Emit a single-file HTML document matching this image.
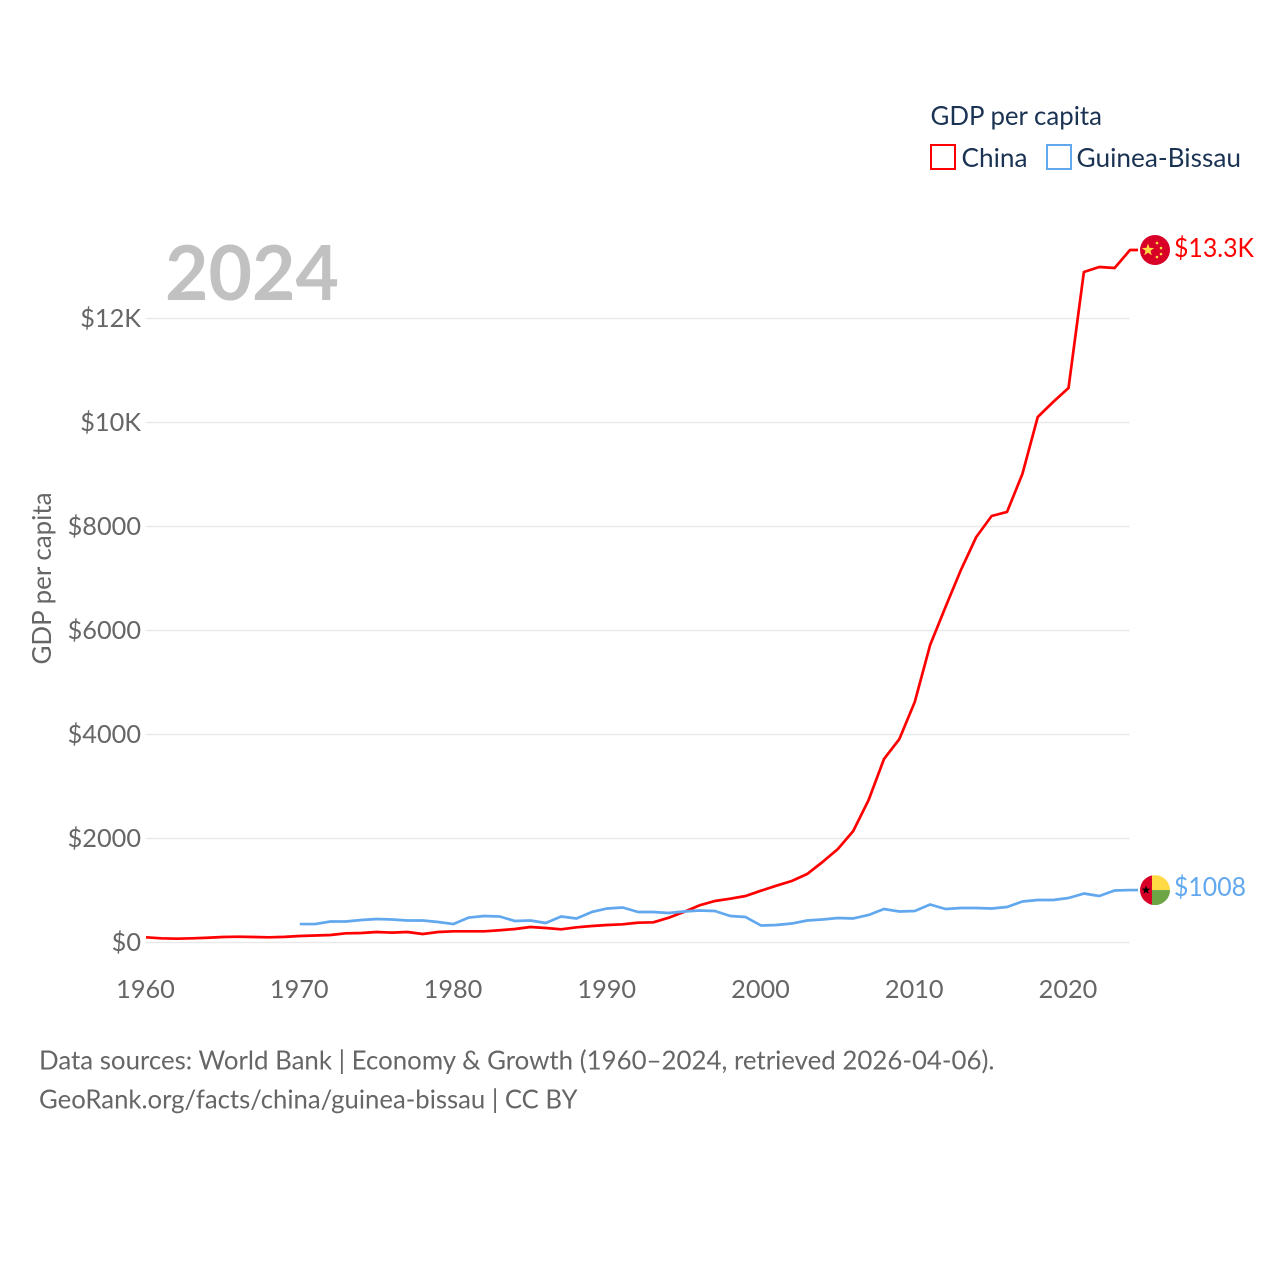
<!DOCTYPE html>
<html lang="en">
<head>
<meta charset="utf-8">
<title>GDP per capita: China and Guinea-Bissau</title>
<style>
html,body{margin:0;padding:0;background:#fff;width:1280px;height:1280px;overflow:hidden}
svg{display:block}
text{font-family:"Lato","Carlito","Liberation Sans",sans-serif}
</style>
</head>
<body>
<svg id="chart" xmlns="http://www.w3.org/2000/svg" width="1280" height="1280" viewBox="0 0 1280 1280">
  <defs>
    <clipPath id="flag-clip"><circle cx="0" cy="0" r="15"></circle></clipPath>
  </defs>
  <rect width="1280" height="1280" fill="#ffffff"></rect>
  <g id="grid"></g>
  <g id="y-ticks"></g>
  <g id="x-ticks"></g>
  <text x="165" y="300" font-size="76" font-weight="700" fill="#c1c1c1" textLength="174" lengthAdjust="spacingAndGlyphs">2024</text>
  <text transform="translate(51,578.5) rotate(-90)" text-anchor="middle" font-size="26" fill="#666666" textLength="172" lengthAdjust="spacingAndGlyphs">GDP per capita</text>
  <path id="line-china" fill="none" stroke="#ff0000" stroke-width="2.7" stroke-linejoin="round"></path>
  <path id="line-gnb" fill="none" stroke="#62a8ee" stroke-width="2.7" stroke-linejoin="round"></path>
  <g id="flag-china">
    <g clip-path="url(#flag-clip)">
      <rect x="-15" y="-15" width="30" height="30" fill="#d80027"></rect>
      <polygon id="china-star-main" points="0,0" fill="#ffda44"></polygon>
      <circle cx="2" cy="-7" r="1.3" fill="#ffda44"></circle>
      <circle cx="6" cy="-2" r="1.3" fill="#ffda44"></circle>
      <circle cx="6" cy="4" r="1.3" fill="#ffda44"></circle>
      <circle cx="2" cy="7" r="1.3" fill="#ffda44"></circle>
    </g>
  </g>
  <g id="flag-gnb">
    <g clip-path="url(#flag-clip)">
      <rect x="-15" y="-15" width="12" height="30" fill="#d80027"></rect>
      <rect x="-3" y="-15" width="18" height="15" fill="#ffda44"></rect>
      <rect x="-3" y="0" width="18" height="15" fill="#6da544"></rect>
      <polygon id="gnb-star" points="0,0" fill="#000000"></polygon>
    </g>
  </g>
  <text id="value-china" x="1174" font-size="26" fill="#ff0000" textLength="80" lengthAdjust="spacingAndGlyphs"></text>
  <text id="value-gnb" x="1174" font-size="26" fill="#62a8ee" textLength="72" lengthAdjust="spacingAndGlyphs"></text>
  <g>
    <text x="930.5" y="125" font-size="26" fill="#1a3353" textLength="171.5" lengthAdjust="spacingAndGlyphs">GDP per capita</text>
    <g>
      <rect x="931" y="145" width="24" height="24" fill="none" stroke="#ff0000" stroke-width="2"></rect>
      <text x="961.5" y="167" font-size="26" fill="#1a3353" textLength="66" lengthAdjust="spacingAndGlyphs">China</text>
    </g>
    <g>
      <rect x="1047" y="145" width="24" height="24" fill="none" stroke="#62a8ee" stroke-width="2"></rect>
      <text x="1076.5" y="167" font-size="26" fill="#1a3353" textLength="164.5" lengthAdjust="spacingAndGlyphs">Guinea-Bissau</text>
    </g>
  </g>
  <g>
    <text x="39" y="1069.5" font-size="26" fill="#666666" textLength="955.5" lengthAdjust="spacingAndGlyphs">Data sources: World Bank | Economy &amp; Growth (1960–2024, retrieved 2026-04-06).</text>
    <text x="39" y="1108.5" font-size="26" fill="#666666" textLength="538.5" lengthAdjust="spacingAndGlyphs">GeoRank.org/facts/china/guinea-bissau | CC BY</text>
  </g>
</svg>
<script>
const chinaStartYear = 1960;
const gnbStartYear = 1970;
const chinaValues = [100,81,73,81,92,106,112,106,100,108,125,135,144,177,183,202,190,202,163,202,215,215,215,235,260,298,279,254,292,317,337,350,381,388,477,590,715,798,842,894,996,1092,1183,1317,1548,1798,2144,2740,3529,3913,4625,5721,6452,7163,7798,8202,8279,9009,10106,10394,10663,12894,12990,12971,13317];
const gnbValues = [355,355,404,404,433,452,442,423,423,394,355,480,510,500,413,423,375,500,462,587,654,673,587,587,567,596,615,606,510,490,327,337,365,423,442,471,462,529,644,596,606,731,644,663,663,654,683,788,817,817,856,942,894,1000,1008];
const yTickValues = [0,2000,4000,6000,8000,10000,12000];
const yTickLabels = ["$0","$2000","$4000","$6000","$8000","$10K","$12K"];
const xTickYears = [1960,1970,1980,1990,2000,2010,2020];
const chinaValueLabel = "$13.3K";
const gnbValueLabel = "$1008";

const SVG_NS = "http://www.w3.org/2000/svg";
const plotLeft = 146, plotRight = 1130, plotBottom = 942.5, plotTop = 318.5;
const minYear = 1960, maxYear = 2024, topValue = 12000;
function xScale(year) { return plotLeft + (year - minYear) / (maxYear - minYear) * (plotRight - plotLeft); }
function yScale(value) { return plotBottom - value / topValue * (plotBottom - plotTop); }
function linePath(values, startYear, endX) {
  let d = values.map(function (v, i) {
    return (i ? "L" : "M") + xScale(startYear + i).toFixed(2) + " " + yScale(v).toFixed(2);
  }).join("");
  d += "L" + endX + " " + yScale(values[values.length - 1]).toFixed(2);
  return d;
}
function starPoints(cx, cy, R) {
  const pts = [];
  for (let i = 0; i < 10; i++) {
    const r = i % 2 ? R * 0.4 : R;
    const a = -Math.PI / 2 + i * Math.PI / 5;
    pts.push((cx + r * Math.cos(a)).toFixed(2) + "," + (cy + r * Math.sin(a)).toFixed(2));
  }
  return pts.join(" ");
}

const gridGroup = document.getElementById("grid");
const yGroup = document.getElementById("y-ticks");
const xGroup = document.getElementById("x-ticks");

yTickValues.forEach(function (v, i) {
  const line = document.createElementNS(SVG_NS, "line");
  
  
  line.setAttribute("x1", plotLeft);
  line.setAttribute("x2", plotRight - 0.5);
  line.setAttribute("y1", yScale(v));
  line.setAttribute("y2", yScale(v));
  line.setAttribute("stroke", "#e9e9e9");
  line.setAttribute("stroke-width", "1.5");
  gridGroup.appendChild(line);

  const label = document.createElementNS(SVG_NS, "text");
  
  
  label.setAttribute("x", 141);
  label.setAttribute("y", yScale(v) + 8.5);
  label.setAttribute("text-anchor", "end");
  label.setAttribute("font-size", "25.3");
  label.setAttribute("fill", "#666666");
  label.textContent = yTickLabels[i];
  yGroup.appendChild(label);
});

xTickYears.forEach(function (year) {
  const label = document.createElementNS(SVG_NS, "text");
  
  
  label.setAttribute("x", xScale(year) - 0.5);
  label.setAttribute("y", 998);
  label.setAttribute("text-anchor", "middle");
  label.setAttribute("font-size", "25.3");
  label.setAttribute("fill", "#666666");
  label.textContent = String(year);
  xGroup.appendChild(label);
});

document.getElementById("line-china").setAttribute("d", linePath(chinaValues, chinaStartYear, 1138));
document.getElementById("line-gnb").setAttribute("d", linePath(gnbValues, gnbStartYear, 1138));

const chinaEndY = yScale(chinaValues[chinaValues.length - 1]);
const gnbEndY = yScale(gnbValues[gnbValues.length - 1]);
document.getElementById("flag-china").setAttribute("transform", "translate(1155," + chinaEndY.toFixed(2) + ")");
document.getElementById("flag-gnb").setAttribute("transform", "translate(1155," + gnbEndY.toFixed(2) + ")");
document.getElementById("china-star-main").setAttribute("points", starPoints(-7, 0, 6.5));
document.getElementById("gnb-star").setAttribute("points", starPoints(-9, 0, 4.5));

const valueChina = document.getElementById("value-china");
valueChina.setAttribute("y", (chinaEndY + 7).toFixed(2));
valueChina.textContent = chinaValueLabel;
const valueGnb = document.getElementById("value-gnb");
valueGnb.setAttribute("y", (gnbEndY + 6).toFixed(2));
valueGnb.textContent = gnbValueLabel;
</script>
</body>
</html>
